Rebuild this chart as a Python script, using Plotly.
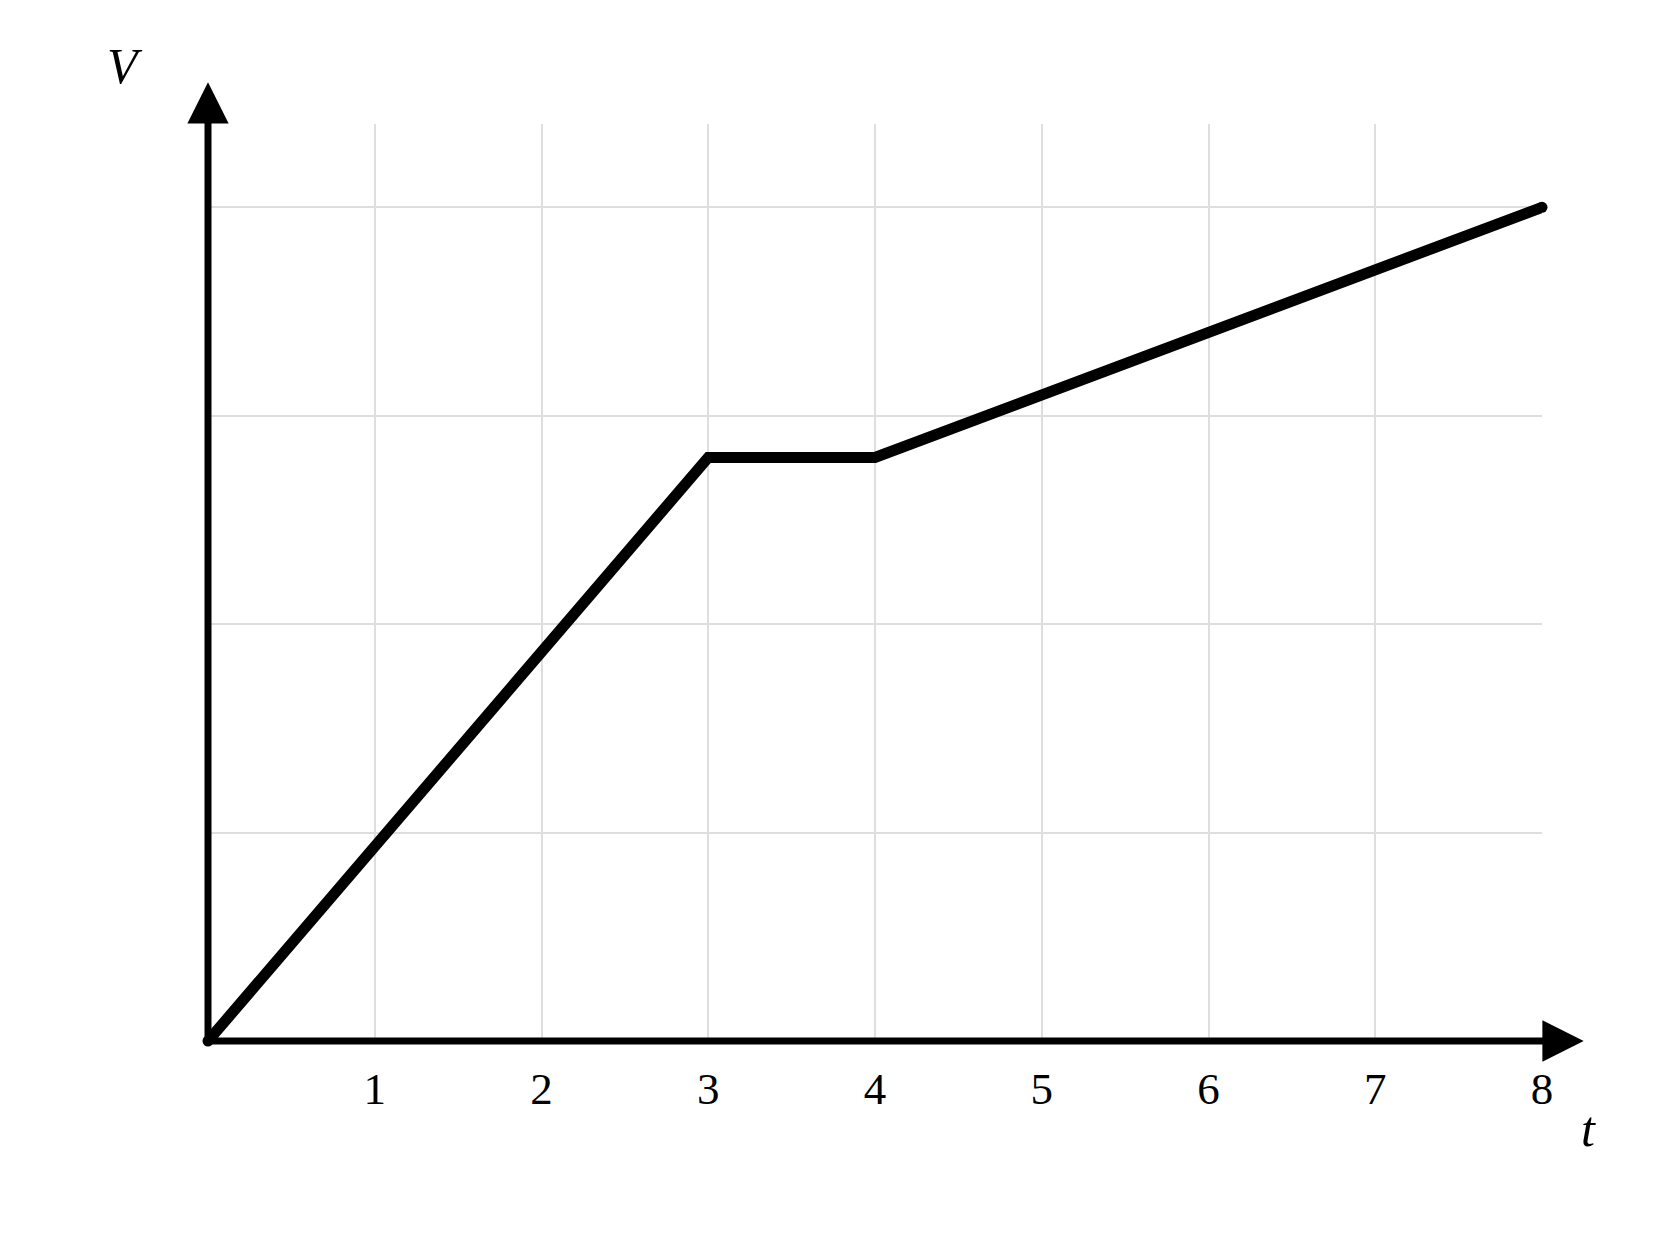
import plotly.graph_objects as go

# velocity-time graph
t = [0, 3, 4, 8]
V = [0, 2.8, 2.8, 4]
tick_vals = [1, 2, 3, 4, 5, 6, 7, 8]
tick_text = ["1", "2", "3", "4", "5", "6", "7", "8"]

serif = "Liberation Serif, Times New Roman, serif"

fig = go.Figure()

fig.add_trace(go.Scatter(x=t, y=V, mode="lines",
                         line=dict(color="black", width=11),
                         showlegend=False, hoverinfo="skip"))
# round ends of the graph line
fig.add_trace(go.Scatter(x=[t[0], t[-1]], y=[V[0], V[-1]], mode="markers",
                         marker=dict(color="black", size=11), cliponaxis=False,
                         showlegend=False, hoverinfo="skip"))

# axis arrows (x and y)
fig.add_annotation(x=0, y=4.6, ax=0, ay=0, xref="x", yref="y", axref="x", ayref="y",
                   text="", showarrow=True, arrowhead=2, arrowsize=1.18,
                   arrowwidth=7, arrowcolor="black")
fig.add_annotation(x=8.25, y=0, ax=0, ay=0, xref="x", yref="y", axref="x", ayref="y",
                   text="", showarrow=True, arrowhead=2, arrowsize=1.18,
                   arrowwidth=7, arrowcolor="black")

# axis names
fig.add_annotation(x=-0.077, y=1.096, xref="paper", yref="paper", text="<i>V</i>",
                   showarrow=False, font=dict(family=serif, size=50, color="black"))
fig.add_annotation(x=1.042, y=-0.129, xref="paper", yref="paper", text="<i>t</i>",
                   showarrow=False, font=dict(family=serif, size=50, color="black"))

fig.update_layout(
    width=1667, height=1250,
    margin=dict(l=200, r=133, t=116, b=217),
    paper_bgcolor="white", plot_bgcolor="white",
    xaxis=dict(range=[0, 8], tickvals=tick_vals, ticktext=tick_text,
               showgrid=True, gridcolor="#dedede", gridwidth=2,
               zeroline=False, showline=False, ticks="",
               ticklabelstandoff=17,
               tickfont=dict(family=serif, size=45, color="black")),
    yaxis=dict(range=[0, 4.4], dtick=1, showgrid=True, gridcolor="#dedede", gridwidth=2,
               zeroline=False, showline=False, showticklabels=False, ticks=""),
)

fig.write_html("out.html")
